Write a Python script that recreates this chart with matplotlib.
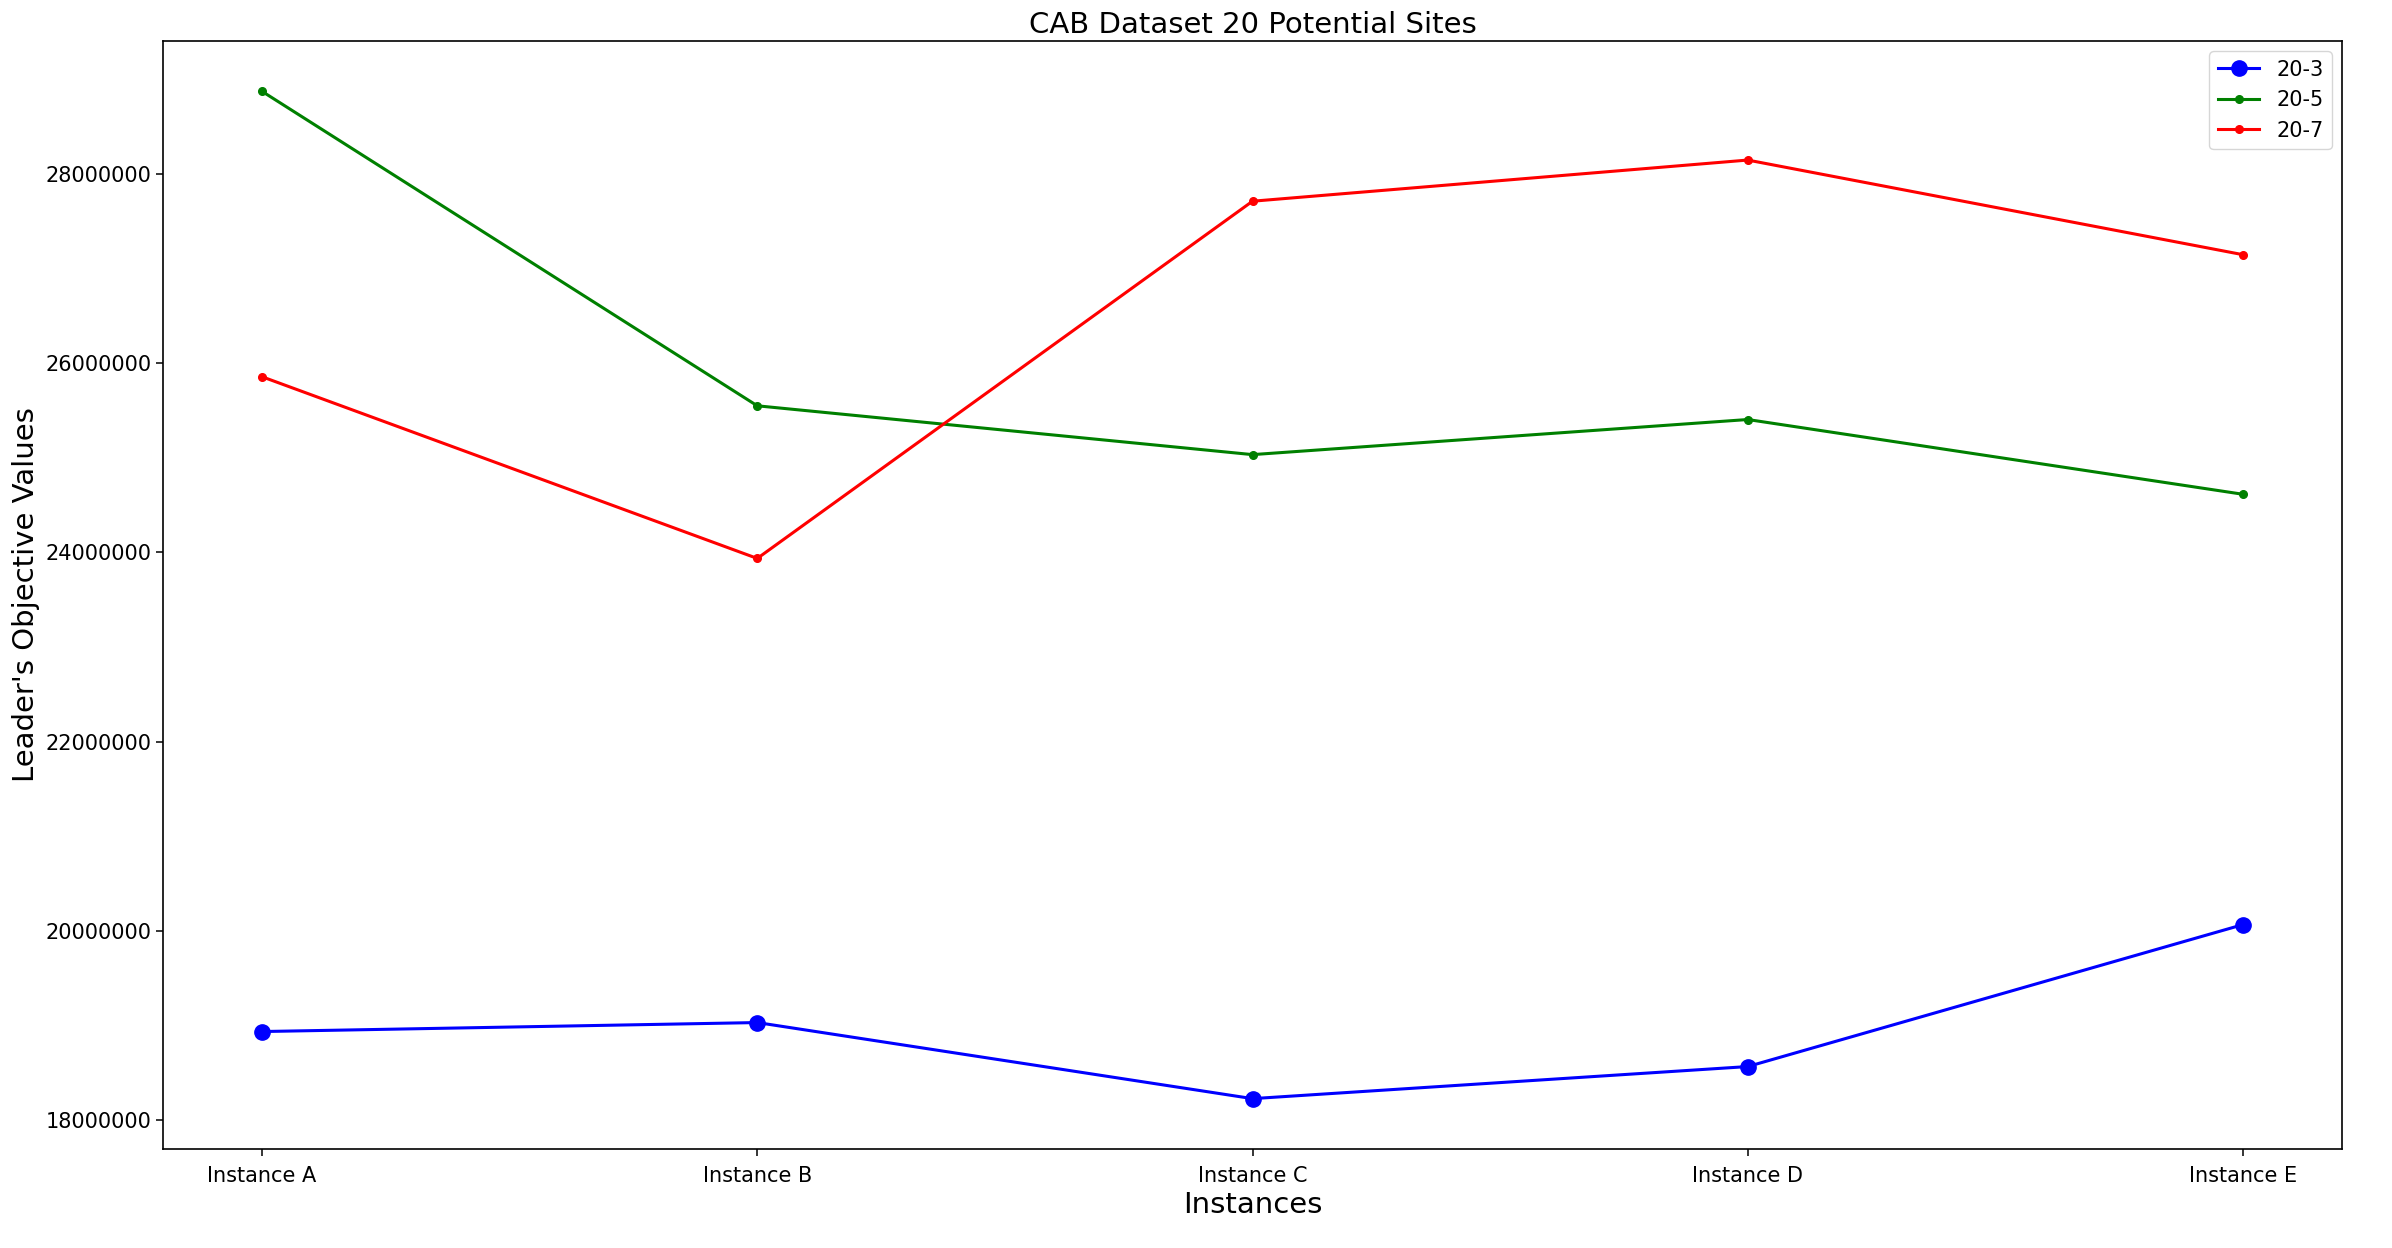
import matplotlib
matplotlib.use("Agg")
import matplotlib.pyplot as plt

categories = ["Instance A", "Instance B", "Instance C", "Instance D", "Instance E"]
s20_3 = [18935000, 19030000, 18226000, 18565000, 20065000]
s20_5 = [28871000, 25548000, 25032000, 25403000, 24613000]
s20_7 = [25855000, 23935000, 27710000, 28145000, 27145000]

fig, ax = plt.subplots(figsize=(23.92, 12.48), dpi=100)
fig.subplots_adjust(left=163/2392, right=2342/2392, top=1-41/1248, bottom=1-1149/1248)

x = list(range(len(categories)))
ax.plot(x, s20_3, color="blue", marker="o", markersize=11, linewidth=2.2, label="20-3")
ax.plot(x, s20_5, color="green", marker=".", markersize=11, linewidth=2.2, label="20-5")
ax.plot(x, s20_7, color="red", marker=".", markersize=11, linewidth=2.2, label="20-7")

ax.set_xticks(x)
ax.set_xticklabels(categories)
ax.ticklabel_format(axis="y", style="plain", useOffset=False)
ax.tick_params(labelsize=15, length=5, width=1.1)
ax.tick_params(axis="x", pad=7)
for sp in ax.spines.values():
    sp.set_linewidth(1.2)
ax.set_title("CAB Dataset 20 Potential Sites", fontsize=21)
ax.set_xlabel("Instances", fontsize=21)
ax.set_ylabel("Leader's Objective Values", fontsize=21)
ax.legend(loc="upper right", fontsize=15)

fig.savefig("out.png", dpi=100)
